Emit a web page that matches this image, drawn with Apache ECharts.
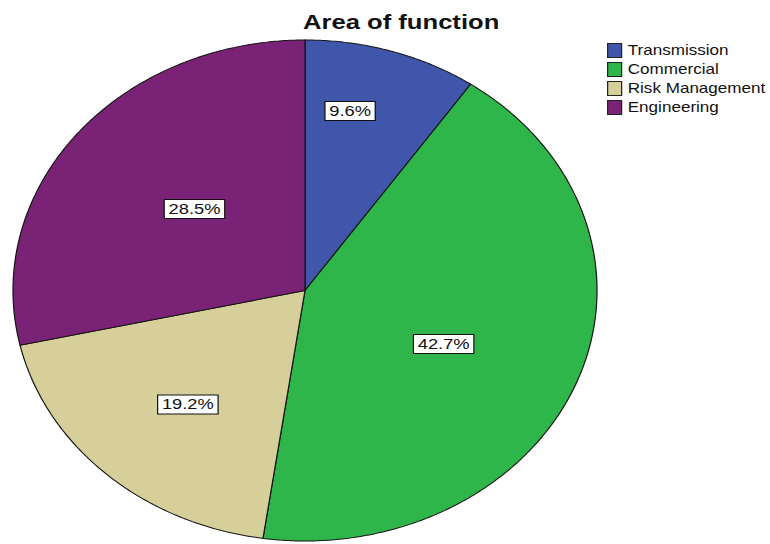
<!DOCTYPE html>
<html>
<head>
<meta charset="utf-8">
<script src="https://cdn.jsdelivr.net/npm/echarts@6/dist/echarts.min.js"></script>
<style>
  html, body { margin: 0; padding: 0; background: #fff; overflow: hidden; }
  /* the chart is laid out narrower and widened horizontally, giving the wide glyphs */
  #chart { width: 631px; height: 544px; transform: scaleX(1.2203); transform-origin: 0 0; }
</style>
</head>
<body>
<div id="chart"></div>
<script>
// Slice categories and their shares (%)
const categories = ['Transmission', 'Commercial', 'Risk Management', 'Engineering'];
const percents = [9.6, 42.7, 19.2, 28.5];
const sliceColors = ['#3F56AB', '#2FB64A', '#D6CF9A', '#7A2275'];

// Horizontal stretch applied to the whole chart
const SX = 770 / 631;
// Pie geometry in page pixels, converted to layout space
const CX = 305 / SX, CY = 290.5, RX = 292 / SX, RY = 250.5;
// Label anchor along each slice's mid-angle, as fractions of [RX, RY]
const labelFactors = [[0.52, 0.75], [0.51, 0.585], [0.59, 0.62], [0.485, 0.52]];

const FONT = '"Liberation Sans", Arial, Helvetica, sans-serif';

function renderSlice(factor) {
  return function (params, api) {
    const a0 = api.value(0) * Math.PI / 180;
    const a1 = api.value(1) * Math.PI / 180;
    const pts = [[CX, CY]];
    const n = Math.max(2, Math.ceil((a1 - a0) / (Math.PI / 360)));
    for (let k = 0; k <= n; k++) {
      const a = a0 + (a1 - a0) * k / n;
      pts.push([CX + RX * Math.sin(a), CY - RY * Math.cos(a)]);
    }
    const am = (a0 + a1) / 2;
    const lx = CX + RX * factor[0] * Math.sin(am);
    const ly = CY - RY * factor[1] * Math.cos(am);
    return {
      type: 'group',
      children: [
        {
          type: 'polygon',
          shape: { points: pts },
          style: { fill: api.visual('color'), stroke: '#151515', lineWidth: 1 }
        },
        {
          type: 'text',
          x: lx, y: ly, z2: 10,
          style: {
            text: api.value(2).toFixed(1) + '%',
            font: '15px ' + FONT,
            fill: '#111',
            align: 'center',
            verticalAlign: 'middle',
            backgroundColor: '#fff',
            borderColor: '#111',
            borderWidth: 1,
            padding: [2, 3, 1, 3]
          }
        }
      ]
    };
  };
}

const total = percents.reduce((a, b) => a + b, 0);
let acc = 0;
const series = categories.map((name, i) => {
  const start = acc / total * 360;
  acc += percents[i];
  const end = acc / total * 360;
  return {
    type: 'custom',
    name: name,
    coordinateSystem: 'none',
    color: sliceColors[i],
    data: [[start, end, percents[i]]],
    renderItem: renderSlice(labelFactors[i])
  };
});

const chart = echarts.init(document.getElementById('chart'), null, { renderer: 'svg' });
chart.setOption({
  animation: false,
  backgroundColor: '#fff',
  title: {
    text: 'Area of function',
    left: 303 / SX - 5,
    top: 6,
    textStyle: { fontFamily: FONT, fontWeight: 'bold', fontSize: 21, color: '#111' }
  },
  legend: {
    data: categories,
    orient: 'vertical',
    left: 607 / SX,
    top: 43,
    padding: 0,
    itemWidth: 14 / SX,
    itemHeight: 14,
    itemGap: 4,
    icon: 'rect',
    selectedMode: false,
    itemStyle: { borderColor: '#222', borderWidth: 1 },
    textStyle: { fontFamily: FONT, fontSize: 14, lineHeight: 14, color: '#111' }
  },
  series: series
});
</script>
</body>
</html>
